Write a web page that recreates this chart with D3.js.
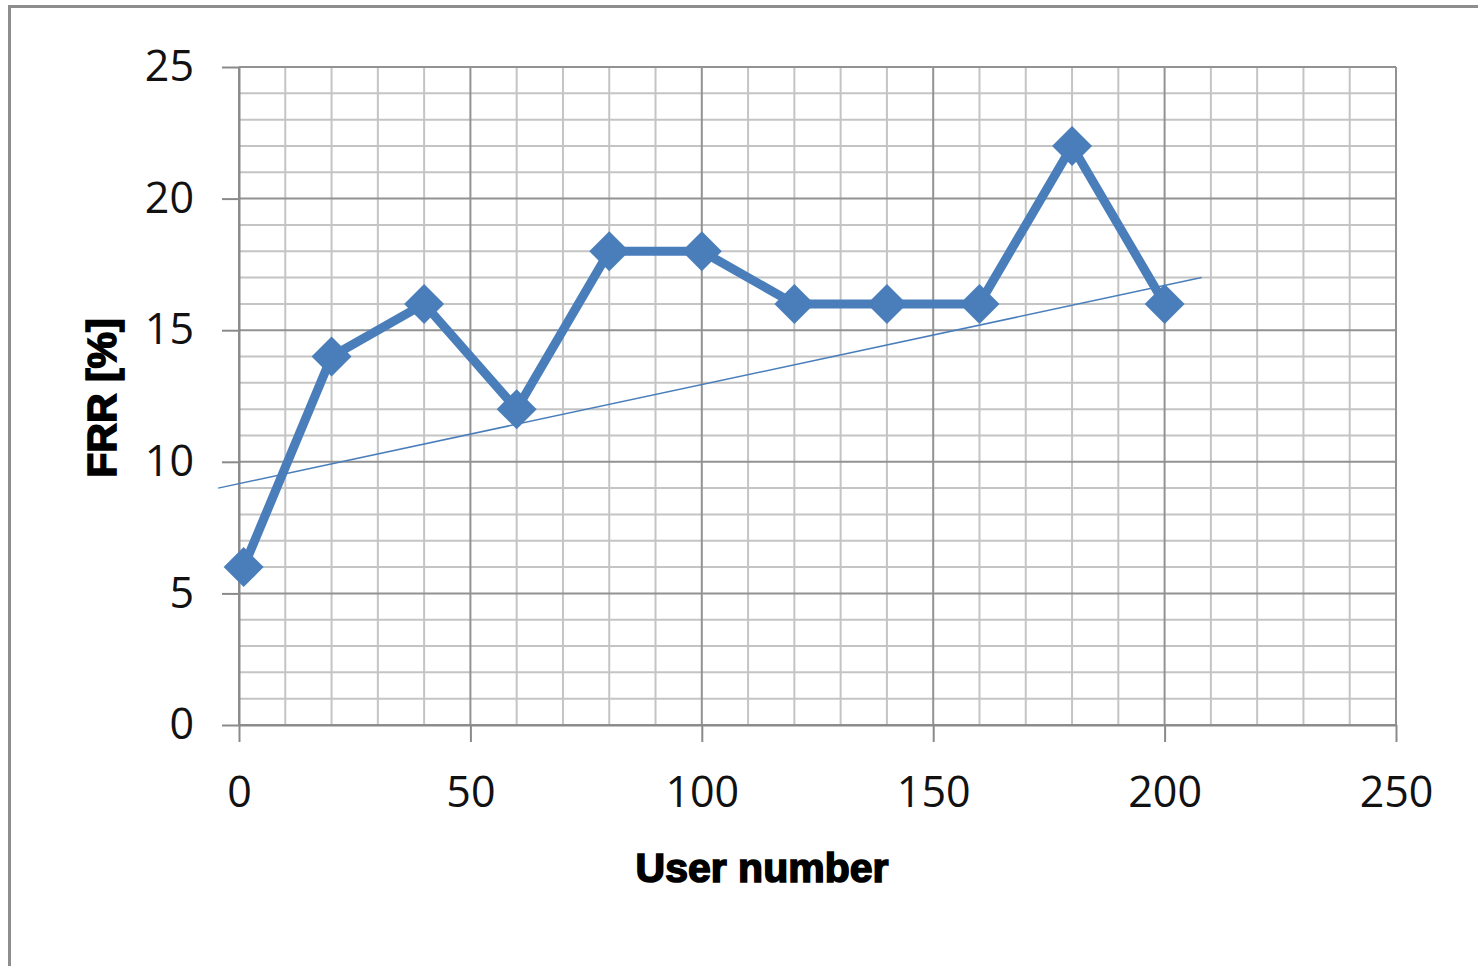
<!DOCTYPE html>
<html><head><meta charset="utf-8">
<script src="https://cdn.jsdelivr.net/npm/d3@7"></script>
<style>html,body{margin:0;padding:0;background:#fff;overflow:hidden}</style>
</head><body>
<svg id="c" width="1478" height="966"></svg>
<script>
const userNumbers = [1, 20, 40, 60, 80, 100, 120, 140, 160, 180, 200];
const frrValues   = [6, 14, 16, 12, 18, 18, 16, 16, 16, 22, 16];
const trendX = [-4.5, 208];
const trendY = [9.0, 17.0];
const xTicks = [0, 50, 100, 150, 200, 250];
const yTicks = [0, 5, 10, 15, 20, 25];
const xMinor = d3.range(0, 251, 10);
const yMinor = d3.range(0, 26, 1);

const svg = d3.select("#c");
const x = d3.scaleLinear().domain([0, 250]).range([239, 1396]);
const y = d3.scaleLinear().domain([0, 25]).range([725, 67]);

// outer frame
svg.append("path").attr("d", "M9.5,966 L9.5,6.5 L1478,6.5")
  .attr("fill", "none").attr("stroke", "#8e8e8e").attr("stroke-width", 3);

const g = svg.append("g");
// minor grid
g.selectAll(".vm").data(xMinor.filter(d => d % 50 !== 0)).join("line")
  .attr("x1", d => x(d)).attr("x2", d => x(d)).attr("y1", y(0)).attr("y2", y(25))
  .attr("stroke", "#c4c4c4").attr("stroke-width", 2);
g.selectAll(".hm").data(yMinor.filter(d => d % 5 !== 0)).join("line")
  .attr("y1", d => y(d)).attr("y2", d => y(d)).attr("x1", x(0)).attr("x2", x(250))
  .attr("stroke", "#c4c4c4").attr("stroke-width", 2);
// major grid
g.selectAll(".vM").data(xTicks).join("line")
  .attr("x1", d => x(d)).attr("x2", d => x(d)).attr("y1", y(0)).attr("y2", y(25))
  .attr("stroke", "#929292").attr("stroke-width", 2);
g.selectAll(".hM").data(yTicks).join("line")
  .attr("y1", d => y(d)).attr("y2", d => y(d)).attr("x1", x(0)).attr("x2", x(250))
  .attr("stroke", "#929292").attr("stroke-width", 2);

// axes
const xAxis = d3.axisBottom(x).tickValues(xTicks).tickSize(17).tickPadding(34).tickSizeOuter(0);
const yAxis = d3.axisLeft(y).tickValues(yTicks).tickSize(17).tickPadding(28).tickSizeOuter(0);
const ax = svg.append("g").attr("transform", `translate(0,${y(0)})`).call(xAxis);
const ay = svg.append("g").attr("transform", `translate(${x(0)},0)`).call(yAxis);
[ax, ay].forEach(a => {
  a.select(".domain").attr("stroke", "#8a8a8a").attr("stroke-width", 2);
  a.selectAll(".tick line").attr("stroke", "#8a8a8a").attr("stroke-width", 2);
  a.selectAll(".tick text").attr("fill", "#111").attr("font-family", "Open Sans, Liberation Sans, sans-serif")
    .attr("font-size", 43);
});
ax.selectAll(".tick text").attr("dy", "0.71em");

// trend line
svg.append("line")
  .attr("x1", x(trendX[0])).attr("y1", y(trendY[0]))
  .attr("x2", x(trendX[1])).attr("y2", y(trendY[1]))
  .attr("stroke", "#4a7ebb").attr("stroke-width", 1.5);

// series
const pts = userNumbers.map((u, i) => [u, frrValues[i]]);
svg.append("path").datum(pts)
  .attr("d", d3.line().x(d => x(d[0])).y(d => y(d[1])))
  .attr("fill", "none").attr("stroke", "#4a7ebb").attr("stroke-width", 9).attr("stroke-linejoin", "round");
svg.selectAll(".mk").data(pts).join("path")
  .attr("transform", d => `translate(${x(d[0])},${y(d[1])})`)
  .attr("d", "M0,-20 L20,0 L0,20 L-20,0 Z")
  .attr("fill", "#4a7ebb");

// titles
svg.append("text").attr("x", 762).attr("y", 882).attr("text-anchor", "middle")
  .attr("font-family", "Liberation Sans, Arial, sans-serif").attr("font-weight", "bold")
  .attr("font-size", 41).attr("stroke", "#000").attr("stroke-width", 1.6).text("User number");
svg.append("text").attr("transform", "translate(116,398) rotate(-90)").attr("text-anchor", "middle")
  .attr("font-family", "Liberation Sans, Arial, sans-serif").attr("font-weight", "bold")
  .attr("font-size", 41).attr("stroke", "#000").attr("stroke-width", 1.6).text("FRR [%]");
</script>
</body></html>
